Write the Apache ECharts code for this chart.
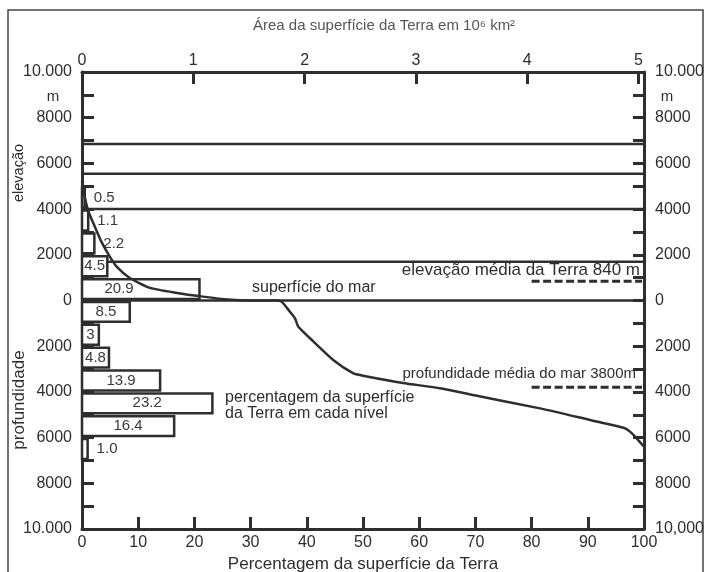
<!DOCTYPE html>
<html><head><meta charset="utf-8">
<script src="https://cdn.jsdelivr.net/npm/echarts@6/dist/echarts.min.js"></script>
<style>html,body{margin:0;padding:0;background:#fff}#chart{width:715px;height:572px}</style>
</head><body><div id="chart"></div>
<script>
// ---- data ----
// 1000 m bands (upper / lower limit, m) and percentage of Earth's surface in each band
const bandUpper   = [5000, 4000, 3000, 2000, 1000, 0, -1000, -2000, -3000, -4000, -5000, -6000];
const bandLower   = [4000, 3000, 2000, 1000, 0, -1000, -2000, -3000, -4000, -5000, -6000, -7000];
const bandPercent = [0.5, 1.1, 2.2, 4.5, 20.9, 8.5, 3, 4.8, 13.9, 23.2, 16.4, 1.0];
const bandLabels  = ['0.5', '1.1', '2.2', '4.5', '20.9', '8.5', '3', '4.8', '13.9', '23.2', '16.4', '1.0'];

// hypsometric curve: cumulative % of surface vs elevation (m)
const curvePercent   = [0, 0.2, 1.07, 2.3, 3.56, 5.0, 6.2, 8.5, 12.1, 16.9, 21.5, 26, 30, 34.6,
                        35.5, 37.0, 37.9, 38.5, 41.2, 44.7, 48.3, 50.0, 57.1, 63.7, 69.6, 81.5, 90.4, 96.6, 97.5, 98.7, 100];
const curveElevation = [5200, 4850, 3960, 3220, 2520, 1900, 1470, 985, 550, 330, 170, 40, 0, 0,
                        -50, -490, -780, -1150, -1800, -2600, -3190, -3290, -3610, -3840, -4140, -4720, -5230, -5590, -5740, -6030, -6400];

// horizontal level lines across the plot (m)
const levelLines = [6850, 5550, 4000, 1700, 0];

// mean elevation / depth markers
const meanValues = [840, -3800];
const meanStart  = [80, 80];
const meanLabels = ['elevação média da Terra 840 m', 'profundidade média do mar 3800m'];

// axis tick labels
const bottomTicks = [0, 10, 20, 30, 40, 50, 60, 70, 80, 90, 100];
const topTicks = [0, 1, 2, 3, 4, 5];

const FONT = "'Liberation Sans', Arial, Helvetica, sans-serif";
const INK = '#2e2e2e';

const chart = echarts.init(document.getElementById('chart'), null, {renderer: 'canvas'});

function leftLabel(v) {
  if (v % 2000 !== 0) return '';
  if (Math.abs(v) === 10000) return '10.000';
  return String(Math.abs(v));
}
function rightLabel(v) {
  if (v % 2000 !== 0) return '';
  if (v === 10000) return '10.000';
  if (v === -10000) return '10,000';
  return String(Math.abs(v));
}
// percentage where the curve crosses a given elevation (linear between read points)
function curvePctAt(elev) {
  for (let i = 0; i < curveElevation.length - 1; i++) {
    const e0 = curveElevation[i], e1 = curveElevation[i + 1];
    if ((elev <= e0 && elev >= e1) && e0 !== e1) {
      return curvePercent[i] + (curvePercent[i + 1] - curvePercent[i]) * (e0 - elev) / (e0 - e1);
    }
  }
  return 100;
}

const axisLineStyle = {color: INK, width: 3};
const tickStyle = {color: INK, width: 3};

const option = {
  animation: false,
  backgroundColor: '#fff',
  grid: {left: 82, right: 71, top: 72, bottom: 43, containLabel: false, outerBoundsMode: 'none'},
  xAxis: [
    {
      type: 'value', position: 'bottom', min: 0, max: 100, interval: 10,
      axisLine: {show: true, onZero: false, lineStyle: axisLineStyle},
      axisTick: {show: true, inside: true, length: 12, lineStyle: tickStyle},
      axisLabel: {color: INK, fontSize: 16, fontFamily: FONT, margin: 6,
        formatter: v => bottomTicks.indexOf(v) >= 0 ? String(v) : ''},
      splitLine: {show: false},
      name: 'Percentagem da superfície da Terra', nameLocation: 'middle', nameGap: 26,
      nameTextStyle: {color: INK, fontSize: 17, fontFamily: FONT}
    },
    {
      type: 'value', position: 'top', min: 0, max: 5.05, interval: 1,
      axisLine: {show: true, onZero: false, lineStyle: axisLineStyle},
      axisTick: {show: true, inside: true, length: 12, lineStyle: tickStyle},
      axisLabel: {color: INK, fontSize: 16, fontFamily: FONT, margin: 3,
        formatter: v => topTicks.indexOf(v) >= 0 ? String(v) : ''},
      splitLine: {show: false}
    }
  ],
  yAxis: [
    {
      type: 'value', position: 'left', min: -10000, max: 10000, interval: 1000,
      axisLine: {show: true, onZero: false, lineStyle: axisLineStyle},
      axisTick: {show: true, inside: true, length: 12, lineStyle: tickStyle},
      axisLabel: {color: INK, fontSize: 16, fontFamily: FONT, margin: 10, formatter: leftLabel},
      splitLine: {show: false}
    },
    {
      type: 'value', position: 'right', min: -10000, max: 10000, interval: 1000,
      axisLine: {show: true, onZero: false, lineStyle: axisLineStyle},
      axisTick: {show: true, inside: true, length: 11, lineStyle: tickStyle},
      axisLabel: {color: INK, fontSize: 16, fontFamily: FONT, margin: 11, formatter: rightLabel},
      splitLine: {show: false}
    }
  ],
  series: [
    {
      name: 'levels', type: 'custom', z: 1, silent: true,
      xAxisIndex: 0, yAxisIndex: 0,
      data: levelLines.map(v => [0, 100, v]),
      encode: {x: [0, 1], y: 2},
      renderItem: function (params, api) {
        const a = api.coord([api.value(0), api.value(2)]);
        const b = api.coord([api.value(1), api.value(2)]);
        return {type: 'line', shape: {x1: a[0], y1: a[1], x2: b[0], y2: b[1]},
          style: {stroke: INK, lineWidth: 2.5}};
      }
    },
    {
      name: 'bands', type: 'custom', z: 3, silent: true,
      xAxisIndex: 0, yAxisIndex: 0,
      data: bandPercent.map((p, i) => [bandUpper[i], bandLower[i], p]),
      encode: {x: 2, y: [0, 1]},
      renderItem: function (params, api) {
        const up = api.value(0), lo = api.value(1), pct = api.value(2);
        const p0 = api.coord([0, up]);
        const p1 = api.coord([pct, lo]);
        const x = p0[0], y = p0[1] + 1.5;
        const w = p1[0] - p0[0], h = p1[1] - p0[1] - 3;
        const inside = w > 15;
        // keep the label in the part of the box left of the curve
        const free = Math.min(pct, curvePctAt((up + lo) / 2));
        const cx = (api.coord([free / 2, lo])[0]);
        return {type: 'group', children: [
          {type: 'rect', shape: {x: x, y: y, width: w, height: h},
            style: {fill: '#fff', stroke: INK, lineWidth: 2.5}},
          {type: 'text', z2: 10, style: {text: bandLabels[params.dataIndex],
            x: inside ? cx : x + w + 9, y: y + h / 2,
            align: inside ? 'center' : 'left', verticalAlign: 'middle',
            font: '15px ' + FONT, fill: '#3a3a3a'}}
        ]};
      }
    },
    {
      name: 'means', type: 'custom', z: 4, silent: true,
      xAxisIndex: 0, yAxisIndex: 0,
      data: meanValues.map((v, i) => [meanStart[i], 100, v]),
      encode: {x: [0, 1], y: 2},
      renderItem: function (params, api) {
        const a = api.coord([api.value(0), api.value(2)]);
        const b = api.coord([api.value(1), api.value(2)]);
        const first = params.dataIndex === 0;
        return {type: 'group', children: [
          {type: 'line', shape: {x1: a[0], y1: a[1], x2: b[0] - 2, y2: b[1]},
            style: {stroke: INK, lineWidth: 3, lineDash: [8, 3.5]}},
          {type: 'text', style: {text: meanLabels[params.dataIndex],
            x: b[0] - (first ? 4 : 8), y: a[1] - (first ? 11 : 13),
            align: 'right', verticalAlign: 'middle',
            font: (first ? '17px ' : '15px ') + FONT, fill: INK}}
        ]};
      }
    },
    {
      name: 'curva hipsométrica', type: 'line', z: 5, silent: true,
      xAxisIndex: 0, yAxisIndex: 0,
      data: curvePercent.map((p, i) => [p, curveElevation[i]]),
      showSymbol: false, smooth: 0.2,
      lineStyle: {color: INK, width: 2.5}
    }
  ],
  graphic: [
    {type: 'rect', z: 0, silent: true, shape: {x: 8, y: 10, width: 695, height: 590},
      style: {fill: 'none', stroke: '#444', lineWidth: 1.5}},
    {type: 'text', silent: true, x: 253, y: 26,
      style: {text: 'Área da superfície da Terra em 10⁶ km²', font: '15px ' + FONT,
        fill: '#555', align: 'left', verticalAlign: 'middle'}},
    {type: 'text', silent: true, x: 53, y: 97,
      style: {text: 'm', font: '15px ' + FONT, fill: INK, align: 'center', verticalAlign: 'middle'}},
    {type: 'text', silent: true, x: 667, y: 97,
      style: {text: 'm', font: '15px ' + FONT, fill: INK, align: 'center', verticalAlign: 'middle'}},
    {type: 'text', silent: true, x: 19, y: 173, rotation: Math.PI / 2,
      style: {text: 'elevação', font: '14.5px ' + FONT, fill: INK, align: 'center', verticalAlign: 'middle'}},
    {type: 'text', silent: true, x: 19, y: 400, rotation: Math.PI / 2,
      style: {text: 'profundidade', font: '17px ' + FONT, fill: INK, align: 'center', verticalAlign: 'middle'}},
    {type: 'text', silent: true, x: 252, y: 288, z: 10,
      style: {text: 'superfície do mar', font: '16px ' + FONT, fill: INK, align: 'left', verticalAlign: 'middle'}},
    {type: 'text', silent: true, x: 225, y: 406, z: 10,
      style: {text: 'percentagem da superfície\nda Terra em cada nível', font: '16px ' + FONT,
        lineHeight: 16, fill: INK, align: 'left', verticalAlign: 'middle'}}
  ]
};
chart.setOption(option);
</script>
</body></html>
